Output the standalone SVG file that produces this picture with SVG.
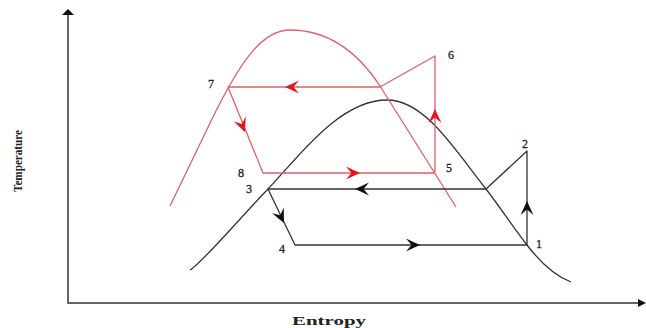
<svg xmlns="http://www.w3.org/2000/svg" width="646" height="328" viewBox="0 0 646 328">
<style>
.ax{stroke:#666;stroke-width:2;fill:none}
.bk{stroke:#333;stroke-width:1.3;fill:none;stroke-linejoin:round}
.rd{stroke:#e06068;stroke-width:1.3;fill:none;stroke-linejoin:round}
.lbl{font-family:"Liberation Serif",serif;font-size:12px;fill:#222;stroke:#222;stroke-width:0.3}
.ttl{font-family:"Liberation Serif",serif;font-weight:bold;fill:#222}
.ahk{fill:#111}
.ahr{fill:#e8141b}
</style>
<defs>
<path id="ah" d="M0,0 C-4,-2 -9,-4 -14,-6.5 L-8.5,0 L-14,6.5 C-9,4 -4,2 0,0 Z"/>
</defs>
<rect width="646" height="328" fill="#fff"/>
<g id="axes">
<line class="ax" x1="68" y1="303" x2="68" y2="14"/>
<polygon points="68,9 62,15 74,15" fill="#111"/>
<line class="ax" x1="67" y1="303" x2="640" y2="303"/>
<polygon points="646,303 638,299 638,307" fill="#111"/>
<text class="ttl" x="0" y="0" font-size="12" textLength="62" lengthAdjust="spacingAndGlyphs" transform="translate(22,192) rotate(-90)">Temperature</text>
<text class="ttl" x="292" y="325" font-size="12" textLength="74" lengthAdjust="spacingAndGlyphs">Entropy</text>
</g>
<g id="domes">
<path id="black-dome" class="bk" d="M190,270 C200,265 240,218 268,189 C300,155 340,100 387,100 C425,100 455,150 486,189 C500,207 515,230 527,245 C540,262 555,276 571,282"/>
<path id="red-dome" class="rd" d="M170,206 L212,119 C240,62 262,30 290,30 C325,30 355,48 380,86 L456,207"/>
</g>
<g id="connectors">
<path id="black-cycle" class="bk" d="M527,245 L527,151 L486,189 L268,189 L295,245 L527,245"/>
<path id="red-cycle" class="rd" d="M435,172 L435,56 L380,87 L228,87 L263,173 L435,173"/>
<use href="#ah" class="ahr" transform="translate(285,87) rotate(180)"/>
<use href="#ah" class="ahr" transform="translate(245,132) rotate(67.9)"/>
<use href="#ah" class="ahr" transform="translate(360,173)"/>
<use href="#ah" class="ahr" transform="translate(435,109) rotate(-90)"/>
<use href="#ah" class="ahk" transform="translate(355,189) rotate(180)"/>
<use href="#ah" class="ahk" transform="translate(284,223) rotate(64.3)"/>
<use href="#ah" class="ahk" transform="translate(420,245)"/>
<use href="#ah" class="ahk" transform="translate(527,201) rotate(-90)"/>
</g>
<g id="p1"><text class="lbl" x="536" y="248">1</text></g>
<g id="p2"><text class="lbl" x="522" y="148">2</text></g>
<g id="p3"><text class="lbl" x="246" y="193">3</text></g>
<g id="p4"><text class="lbl" x="279" y="253">4</text></g>
<g id="p5"><text class="lbl" x="446" y="172">5</text></g>
<g id="p6"><text class="lbl" x="448" y="59">6</text></g>
<g id="p7"><text class="lbl" x="208" y="88">7</text></g>
<g id="p8"><text class="lbl" x="238" y="177">8</text></g>
</svg>
